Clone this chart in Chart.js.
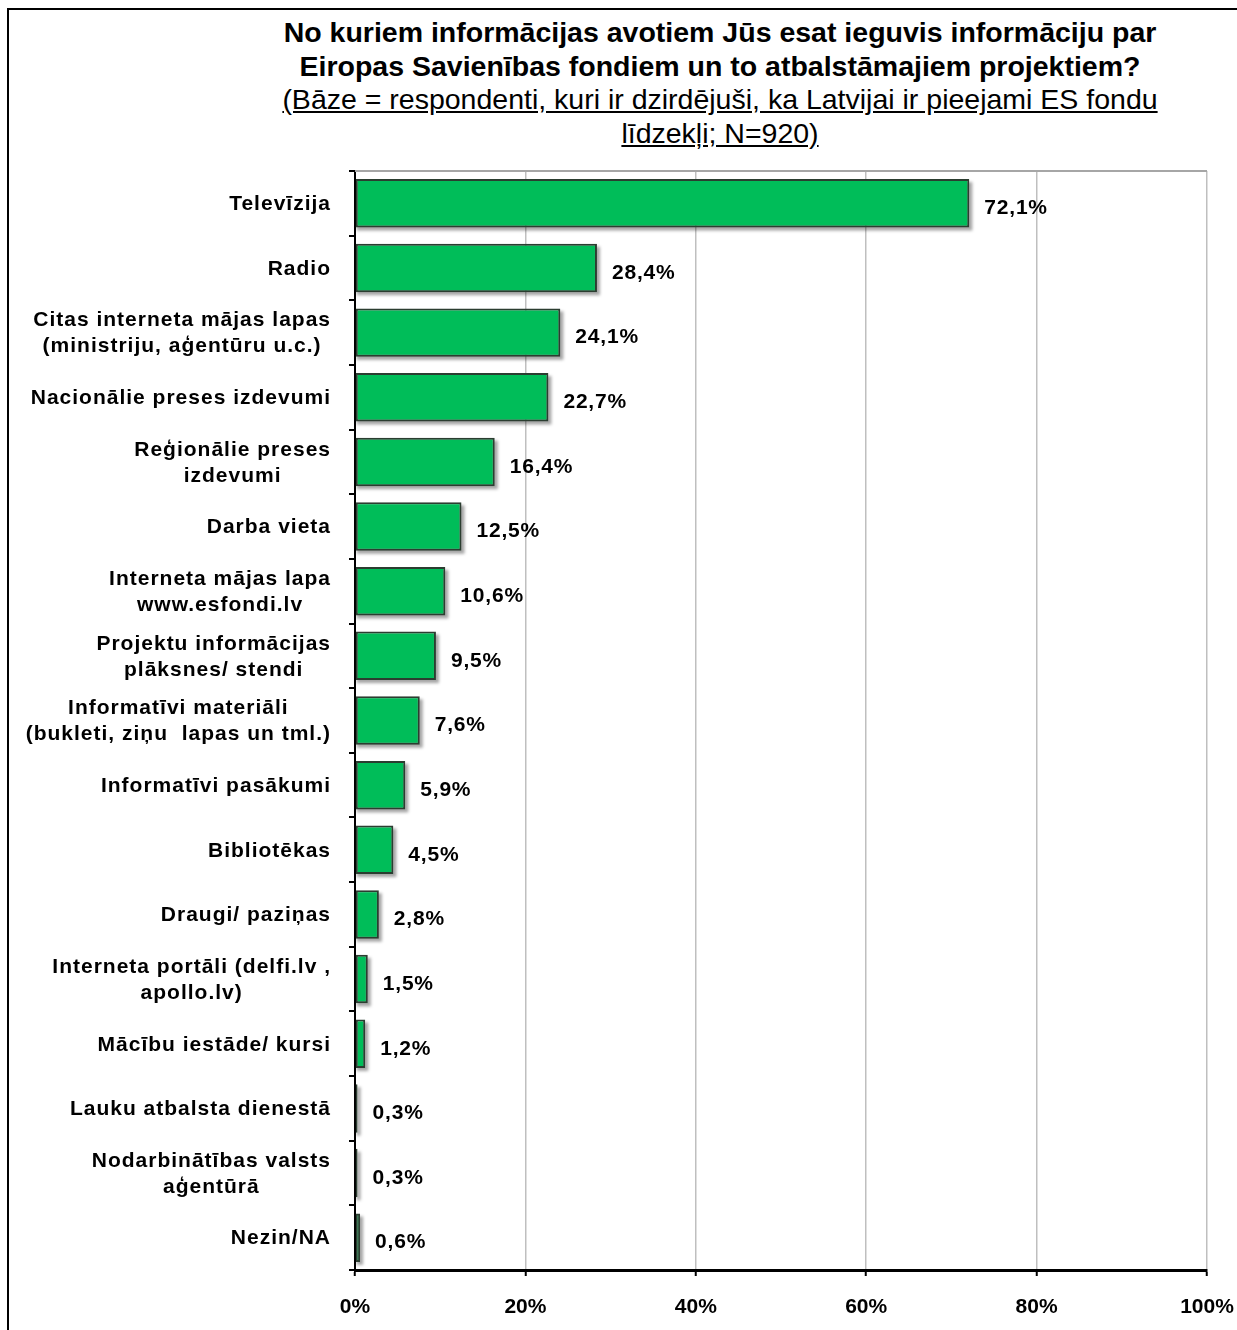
<!DOCTYPE html>
<html>
<head>
<meta charset="utf-8">
<script src="https://cdn.jsdelivr.net/npm/chart.js@4.4.1/dist/chart.umd.min.js"></script>
<style>
  html, body { margin: 0; padding: 0; background: #fff; overflow: hidden; }
  #frame {
    position: absolute; left: 7px; top: 8px; width: 1260px; height: 1360px;
    border: 2px solid #000; box-sizing: border-box;
  }
  #title {
    position: absolute; left: 220px; width: 1000px; top: 16px;
    text-align: center; font-family: "Liberation Sans", Arial, sans-serif; color: #000;
    white-space: nowrap;
  }
  #title .main { font-weight: bold; font-size: 28.5px; line-height: 33.5px; }
  #title .sub { font-size: 28.5px; line-height: 33.5px; text-decoration: underline; }
  #wrap { position: absolute; left: 0; top: 0; width: 1237px; height: 1330px; }
</style>
</head>
<body>
<div id="frame"></div>
<div id="title">
  <div class="main">No kuriem informācijas avotiem Jūs esat ieguvis informāciju par<br>Eiropas Savienības fondiem un to atbalstāmajiem projektiem?</div>
  <div class="sub">(Bāze = respondenti, kuri ir dzirdējuši, ka Latvijai ir pieejami ES fondu<br>līdzekļi; N=920)</div>
</div>
<div id="wrap"><canvas id="chart" width="1237" height="1330"></canvas></div>
<script>
// kategorijas (vairākrindu nosaukumi kā masīvi)
const categories = [
  "Televīzija",
  "Radio",
  ["Citas interneta mājas lapas", "(ministriju, aģentūru u.c.)"],
  "Nacionālie preses izdevumi",
  ["Reģionālie preses", "izdevumi"],
  "Darba vieta",
  ["Interneta mājas lapa", "www.esfondi.lv"],
  ["Projektu informācijas", "plāksnes/ stendi"],
  ["Informatīvi materiāli", "(bukleti, ziņu  lapas un tml.)"],
  "Informatīvi pasākumi ",
  "Bibliotēkas",
  "Draugi/ paziņas",
  ["Interneta portāli (delfi.lv ,", "apollo.lv)"],
  "Mācību iestāde/ kursi",
  "Lauku atbalsta dienestā",
  ["Nodarbinātības valsts", "aģentūrā"],
  "Nezin/NA"
];
const values = [72.1, 28.4, 24.1, 22.7, 16.4, 12.5, 10.6, 9.5, 7.6, 5.9, 4.5, 2.8, 1.5, 1.2, 0.3, 0.3, 0.6];
const xTicks = [0, 20, 40, 60, 80, 100];

const FONT = "'Liberation Sans', Arial, sans-serif";

// ēna stabiņiem + vērtību uzraksti
const barDecor = {
  id: "barDecor",
  beforeDatasetsDraw(chart) {
    const ctx = chart.ctx;
    const meta = chart.getDatasetMeta(0);
    ctx.save();
    ctx.filter = "blur(1.5px)";
    ctx.fillStyle = "rgba(0,0,0,0.35)";
    meta.data.forEach(bar => {
      const h = bar.height;
      const w = bar.x - bar.base;
      ctx.fillRect(bar.base + 1, bar.y - h / 2 + 3, w + 2, h);
    });
    ctx.restore();
  },
  afterDatasetsDraw(chart) {
    const ctx = chart.ctx;
    const meta = chart.getDatasetMeta(0);
    ctx.save();
    ctx.font = "bold 21px " + FONT;
    ctx.letterSpacing = "0.8px";
    ctx.fillStyle = "#000";
    ctx.textAlign = "left";
    ctx.textBaseline = "middle";
    meta.data.forEach((bar, i) => {
      const txt = values[i].toFixed(1).replace(".", ",") + "%";
      ctx.fillText(txt, bar.x + 15, bar.y + 5);
    });
    ctx.restore();
  }
};

// kategoriju nosaukumi: bloks pielīdzināts pa labi, rindas centrētas
const catLabels = {
  id: "catLabels",
  afterDraw(chart) {
    const ctx = chart.ctx;
    const y = chart.scales.y;
    const right = 331;
    ctx.save();
    ctx.font = "bold 21px " + FONT;
    ctx.letterSpacing = "1px";
    ctx.fillStyle = "#000";
    ctx.textAlign = "center";
    ctx.textBaseline = "middle";
    categories.forEach((c, i) => {
      const lines = Array.isArray(c) ? c : [c];
      const w = Math.max(...lines.map(l => ctx.measureText(l.trimEnd()).width));
      const cx = right - w / 2;
      const cy = y.getPixelForValue(i) + 1;
      const lh = 26;
      lines.forEach((l, k) => {
        ctx.fillText(l.trimEnd(), cx, cy + (k - (lines.length - 1) / 2) * lh);
      });
    });
    // augšējā rāmja līnija
    const a = chart.chartArea;
    ctx.strokeStyle = "#a6a6a6";
    ctx.lineWidth = 2;
    ctx.beginPath();
    ctx.moveTo(a.left, a.top);
    ctx.lineTo(a.right, a.top);
    ctx.stroke();
    ctx.restore();
  }
};

new Chart(document.getElementById("chart"), {
  type: "bar",
  data: {
    labels: categories,
    datasets: [{
      data: values,
      backgroundColor: "#00BD59",
      borderColor: "#2b3d30",
      borderWidth: 2,
      borderSkipped: false,
      barPercentage: 0.75,
      categoryPercentage: 1.0
    }]
  },
  options: {
    indexAxis: "y",
    responsive: false,
    animation: false,
    events: [],
    layout: { padding: { top: 171, right: 30, left: 0, bottom: 0 } },
    plugins: { legend: { display: false }, tooltip: { enabled: false } },
    scales: {
      x: {
        min: 0, max: 100,
        afterBuildTicks: s => { s.ticks = xTicks.map(v => ({ value: v })); },
        afterFit: s => { s.height = 60; s.paddingRight = 0; s.paddingLeft = 0; },
        grid: { color: "#bfbfbf", lineWidth: 1.5, tickColor: "#000", tickLength: 6, tickWidth: 2 },
        border: { color: "#000", width: 3 },
        ticks: {
          callback: v => v + "%",
          color: "#000",
          font: { family: FONT, size: 21, weight: "bold" },
          padding: 19
        }
      },
      y: {
        afterFit: s => { s.width = 355; s.paddingTop = 0; s.paddingBottom = 0; },
        grid: { drawOnChartArea: false, color: "#000", tickLength: 6, lineWidth: 2 },
        border: { color: "#000", width: 2 },
        ticks: { display: false }
      }
    }
  },
  plugins: [barDecor, catLabels]
});
</script>
</body>
</html>
